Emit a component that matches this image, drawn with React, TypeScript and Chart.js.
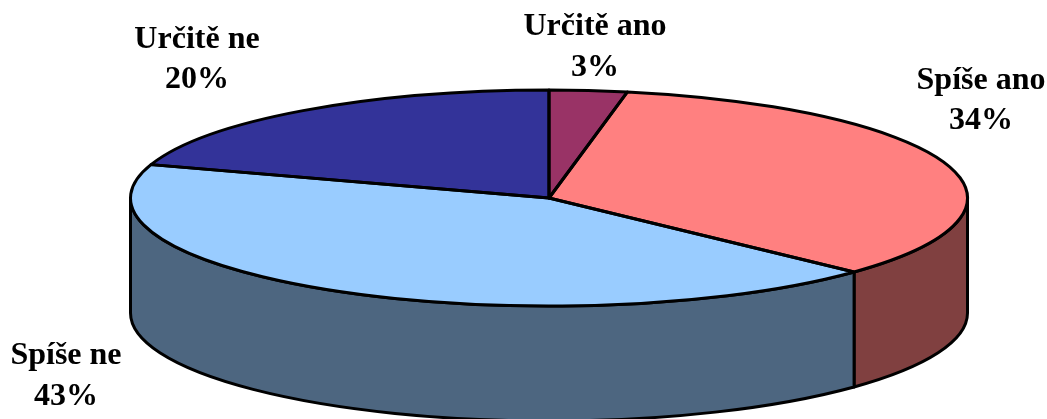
import React, { useEffect, useRef } from "react";
import { Chart, registerables } from "chart.js";

Chart.register(...registerables);

const categories = ["Určitě ano", "Spíše ano", "Spíše ne", "Určitě ne"];
const shares = [3, 34, 43, 20];
const topColors = ["#993366", "#FF8080", "#99CCFF", "#333399"];
const wallColors = ["#4D1A33", "#804040", "#4D6680", "#1A1A4D"];

// Placement of each two-line label: centre x, first baseline, second baseline.
const labelPlacement = [
  [595, 35, 76],
  [981, 89, 129],
  [66, 364, 405],
  [197, 48, 88],
];

const SQUASH = 108 / 418.5;
const DEPTH = 115;
const EDGE = 3;
const TAU = Math.PI * 2;

const pie3d = {
  id: "pie3d",
  beforeDatasetsDraw(chart: any) {
    const ctx = chart.ctx;
    const arcs = chart.getDatasetMeta(0).data;
    ctx.save();
    ctx.lineWidth = EDGE;
    ctx.strokeStyle = "#000";
    ctx.lineJoin = "round";
    arcs.forEach((arc: any, i: number) => {
      const ry = arc.outerRadius * SQUASH;
      // The front of the rim is the part of the circle between 0 and PI.
      for (const shift of [-TAU, 0, TAU]) {
        const s = Math.max(arc.startAngle + shift, 0);
        const e = Math.min(arc.endAngle + shift, Math.PI);
        if (e <= s) continue;
        ctx.beginPath();
        ctx.ellipse(arc.x, arc.y, arc.outerRadius, ry, 0, s, e);
        ctx.ellipse(arc.x, arc.y + DEPTH, arc.outerRadius, ry, 0, e, s, true);
        ctx.closePath();
        ctx.fillStyle = wallColors[i];
        ctx.fill();
        ctx.stroke();
      }
    });
    ctx.restore();
  },
  beforeDatasetDraw(chart: any) {
    const ctx = chart.ctx;
    const arc = chart.getDatasetMeta(0).data[0];
    ctx.save();
    ctx.translate(arc.x, arc.y);
    ctx.scale(1, SQUASH);
    ctx.translate(-arc.x, -arc.y);
  },
  afterDatasetDraw(chart: any) {
    const ctx = chart.ctx;
    ctx.restore();
    ctx.save();
    ctx.lineWidth = EDGE;
    ctx.strokeStyle = "#000";
    ctx.lineJoin = "round";
    chart.getDatasetMeta(0).data.forEach((arc: any) => {
      ctx.beginPath();
      ctx.moveTo(arc.x, arc.y);
      ctx.ellipse(arc.x, arc.y, arc.outerRadius, arc.outerRadius * SQUASH, 0, arc.startAngle, arc.endAngle);
      ctx.closePath();
      ctx.stroke();
    });
    ctx.restore();
  },
  afterDraw(chart: any) {
    const ctx = chart.ctx;
    ctx.save();
    ctx.fillStyle = "#000";
    ctx.font = 'bold 32px "Liberation Serif"';
    ctx.textAlign = "center";
    ctx.textBaseline = "alphabetic";
    categories.forEach((name, i) => {
      const [x, y1, y2] = labelPlacement[i];
      ctx.fillText(name, x, y1);
      ctx.fillText(`${shares[i]}%`, x, y2);
    });
    ctx.restore();
  },
};

export default function App() {
  const ref = useRef<HTMLCanvasElement>(null);
  useEffect(() => {
    const chart = new Chart(ref.current as HTMLCanvasElement, {
      type: "pie",
      data: {
        labels: categories,
        datasets: [
          {
            data: shares,
            backgroundColor: topColors,
            borderWidth: 0,
            clip: false,
          } as any,
        ],
      },
      options: {
        responsive: false,
        animation: false,
        radius: 418.5,
        rotation: 0,
        layout: { padding: { left: 51, right: 0, top: 0, bottom: 23 } },
        plugins: { legend: { display: false }, tooltip: { enabled: false } },
      } as any,
      plugins: [pie3d],
    });
    return () => chart.destroy();
  }, []);
  return (
    <canvas
      ref={ref}
      width={1047}
      height={419}
      style={{ position: "absolute", left: 0, top: 0, display: "block" }}
    />
  );
}
